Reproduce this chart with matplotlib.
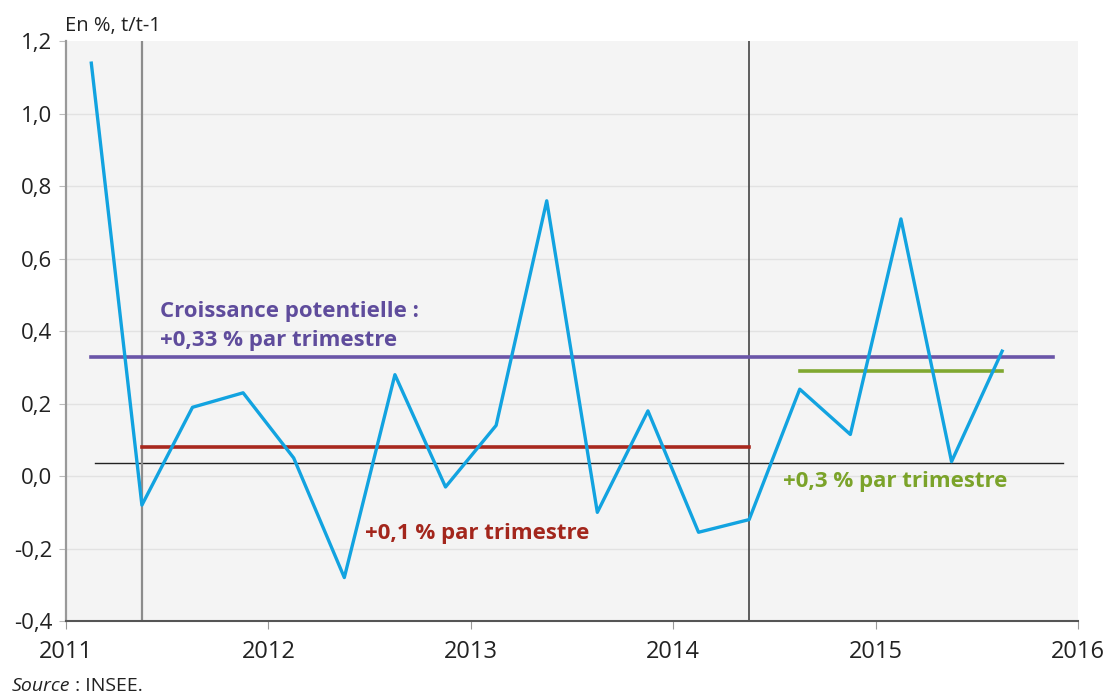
import matplotlib
matplotlib.use("Agg")
import numpy as np
from matplotlib import pyplot as plt

plt.rcParams['font.family'] = ['Open Sans', 'DejaVu Sans']

# quarterly growth, t/t-1, from 2011Q1 to 2015Q3
quarters = np.arange(2011.125, 2015.70, 0.25)
growth = [1.14, -0.08, 0.19, 0.23, 0.05, -0.28, 0.28, -0.03, 0.14, 0.76,
          -0.10, 0.18, -0.155, -0.12, 0.24, 0.115, 0.71, 0.04, 0.345]

potential = 0.33
potential_span = [2011.125, 2015.876]
low_growth = 0.08
low_span = [2011.375, 2014.375]
recent_growth = 0.29
recent_span = [2014.625, 2015.625]
ref_level = 0.035
ref_span = [2011.143, 2015.926]
breaks = [2011.375, 2014.375]

yticks = [-0.4, -0.2, 0.0, 0.2, 0.4, 0.6, 0.8, 1.0, 1.2]
ytick_labels = ['-0,4', '-0,2', '0,0', '0,2', '0,4', '0,6', '0,8', '1,0', '1,2']
xticks = [2011, 2012, 2013, 2014, 2015, 2016]

fig = plt.figure(figsize=(11.13, 6.97), dpi=100)
ax = fig.add_axes([0.0593, 0.109, 0.9093, 0.8316])
ax.set_facecolor('#f4f4f4')

for y in yticks[1:-1]:
    ax.axhline(y, color='#e2e2e2', lw=1, zorder=0)

ax.plot(ref_span, [ref_level, ref_level], color='#222222', lw=1, zorder=2)
ax.axvline(breaks[0], color='#8c8c8c', lw=1.6, zorder=2)
ax.axvline(breaks[1], color='#444444', lw=1.2, zorder=2)

ax.plot(potential_span, [potential, potential], color='#6a55a8', lw=2.6, zorder=3)
ax.plot(low_span, [low_growth, low_growth], color='#a8281e', lw=2.6, zorder=3)
ax.plot(recent_span, [recent_growth, recent_growth], color='#80a830', lw=2.6, zorder=3)

ax.plot(quarters, growth, color='#12a3e0', lw=2.4, zorder=4)

ax.text(2011.464, 0.438, 'Croissance potentielle :', color='#5f4c9c',
        fontsize=16, fontweight='bold', va='baseline')
ax.text(2011.464, 0.358, '+0,33 % par trimestre', color='#5f4c9c',
        fontsize=16, fontweight='bold', va='baseline')
ax.text(2012.477, -0.174, '+0,1 % par trimestre', color='#a3261c',
        fontsize=16, fontweight='bold', va='baseline')
ax.text(2014.543, -0.030, '+0,3 % par trimestre', color='#7ba32a',
        fontsize=16, fontweight='bold', va='baseline')

ax.set_xlim(2011, 2016)
ax.set_ylim(-0.4, 1.2)
ax.set_yticks(yticks)
ax.set_yticklabels(ytick_labels, fontsize=16, color='#222222')
ax.set_xticks(xticks)
ax.set_xticklabels([str(x) for x in xticks], fontsize=17, color='#222222')
ax.tick_params(axis='y', length=5, color='#bbbbbb', pad=5)
ax.tick_params(axis='x', length=6, color='#999999', pad=8)

for s in ['top', 'right']:
    ax.spines[s].set_visible(False)
ax.spines['left'].set_color('#999999')
ax.spines['left'].set_linewidth(1.6)
ax.spines['bottom'].set_color('#555555')
ax.spines['bottom'].set_linewidth(1.5)

fig.text(65 / 1113, 1 - 31 / 697, 'En %, t/t-1', fontsize=14.5, color='#222222', va='baseline')
src = fig.text(12 / 1113, 0.008, 'Source', fontsize=14, style='italic', color='#222222', va='baseline')
renderer = fig.canvas.get_renderer()
bb = src.get_window_extent(renderer)
fig.text(bb.x1 / fig.bbox.width, 0.008, ' : INSEE.', fontsize=14, color='#222222', va='baseline')

fig.savefig('out.png', dpi=100)
